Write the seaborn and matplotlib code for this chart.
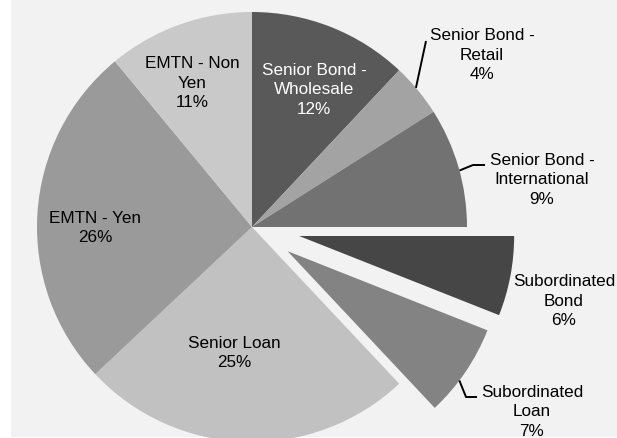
import numpy as np
import matplotlib
matplotlib.use("Agg")
import matplotlib.pyplot as plt
import seaborn as sns
from matplotlib.patches import Rectangle

# Funding mix by instrument (share of total, %)
categories = ["Senior Bond -\nWholesale", "Senior Bond -\nRetail", "Senior Bond -\nInternational",
              "Subordinated\nBond", "Subordinated\nLoan", "Senior Loan", "EMTN - Yen", "EMTN - Non\nYen"]
shares = [12, 4, 9, 6, 7, 25, 26, 11]
gray_levels = ["#595959", "#a3a3a3", "#727272", "#464646", "#838383", "#c1c1c1", "#9a9a9a", "#c9c9c9"]
text_colors = ["white", "black", "black", "black", "black", "black", "black", "black"]

sns.set_theme(style="white")
plt.rcParams["font.family"] = ["Liberation Sans", "DejaVu Sans"]

W, H = 617, 439
fig = plt.figure(figsize=(W / 100, H / 100), dpi=100, facecolor="white")
ax = fig.add_axes([0, 0, 1, 1])
ax.set_facecolor("none")
# chart area panel
ax.add_patch(Rectangle((11, 1), W - 11, H - 1, facecolor="#f2f2f2", edgecolor="none", zorder=0))

cx, cy, R = 252, H - 228, 215
explode = [0, 0, 0, 48, 43, 0, 0, 0]
wedges, _ = ax.pie(shares, colors=gray_levels, startangle=90, counterclock=False,
                   center=(cx, cy), radius=R, explode=explode,
                   wedgeprops=dict(linewidth=0, zorder=1))
ax.set_xlim(0, W)
ax.set_ylim(0, H)
ax.set_aspect("auto")
ax.axis("off")

# label centres (pixels from top-left)
label_pos = [(314, 90), (482, 55), (542, 180), (564, 301), (532, 412), (234, 353), (95, 228), (192, 83)]
for name, val, (lx, ly), tc in zip(categories, shares, label_pos, text_colors):
    ax.text(lx, H - ly, f"{name}\n{val}%", ha="center", va="center", fontsize=12.3,
            color=tc, linespacing=1.38, zorder=3)


def rim_point(w, frac):
    th = np.deg2rad(w.theta1 + frac * (w.theta2 - w.theta1))
    return w.center[0] + w.r * np.cos(th), w.center[1] + w.r * np.sin(th)


# leader lines for the narrow outer slices: (slice, position along rim, bends)
leaders = [(1, 0.55, [(426, 42)]),
           (2, 0.47, [(473, 166), (485, 166)]),
           (4, 0.39, [(466, 398), (477, 398)])]
for idx, frac, pts in leaders:
    x0, y0 = rim_point(wedges[idx], frac)
    xs = [x0] + [p[0] for p in pts]
    ys = [y0] + [H - p[1] for p in pts]
    ax.plot(xs, ys, color="black", lw=1.4, solid_capstyle="butt", zorder=2)

fig.savefig("out.png", dpi=100, facecolor=fig.get_facecolor())
